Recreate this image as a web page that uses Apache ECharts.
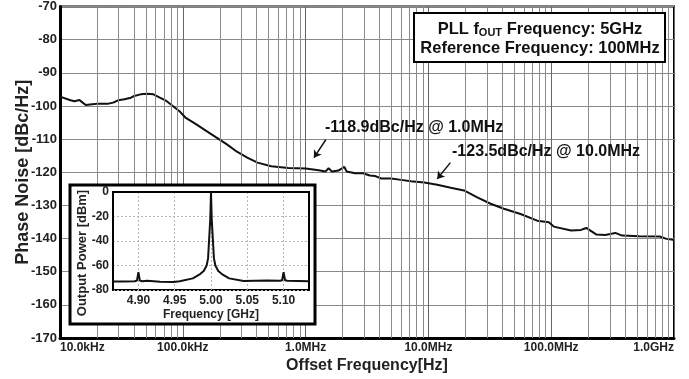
<!doctype html>
<html lang="en">
  <head>
    <meta charset="utf-8">
    <title>PLL Phase Noise</title>
    <script src="https://cdn.jsdelivr.net/npm/echarts@6.0.0/dist/echarts.min.js"></script>
    <style>
      html, body {
        width: 100%;
        height: 100%;
        margin: 0;
        background: #fff;
      }

      #chart {
        width: 689px;
        height: 379px;
      }
    </style>
  </head>
  <body>
    <div id="chart"></div>
    <script>
      // main plot: phase noise vs offset frequency
      const offsetFreq = [
        1e4, 1.2e4, 1.31e4, 1.44e4, 1.53e4, 1.62e4, 1.83e4, 2.07e4, 2.48e4, 2.71e4,
        2.97e4, 3.35e4, 3.78e4, 4.02e4, 4.53e4, 5.11e4, 5.77e4, 6.5e4, 7.35e4, 8.3e4,
        9.34e4, 1.05e5, 1.28e5, 1.55e5, 1.87e5, 2.27e5, 2.76e5, 3.35e5, 4.06e5, 5.25e5,
        7.24e5, 1e6, 1.28e6, 1.45e6, 1.54e6, 1.64e6, 1.85e6, 2.07e6, 2.16e6, 2.53e6,
        2.94e6, 3.33e6, 3.66e6, 4.13e6, 4.97e6, 5.99e6, 7.21e6, 9.25e6, 1.18e7, 1.52e7,
        1.95e7, 2.5e7, 3.21e7, 4.12e7, 5.63e7, 7.69e7, 9.56e7, 1.05e8, 1.45e8, 1.75e8,
        1.93e8, 2.34e8, 2.75e8, 3.33e8, 3.78e8, 5.21e8, 7.65e8, 8.7e8, 9.86e8
      ];
      const phaseNoise = [
        -97.2, -98.2, -98.6, -98.2, -99.0, -99.7, -99.5, -99.3, -99.3, -99.0,
        -98.3, -98.0, -97.5, -97.0, -96.5, -96.3, -96.5, -97.5, -98.5, -100.0,
        -101.5, -103.5, -105.5, -107.5, -109.5, -111.5, -113.8, -115.6, -117.1, -118.2,
        -118.7, -118.9, -119.4, -119.8, -118.8, -119.8, -119.5, -118.4, -119.8, -120.3,
        -120.3, -121.0, -121.1, -121.9, -121.9, -122.3, -122.7, -123.1, -123.8, -124.7,
        -125.5, -127.6, -129.5, -131.0, -132.6, -134.6, -135.1, -136.4, -137.6, -137.4,
        -136.8, -138.8, -138.9, -138.3, -139.1, -139.3, -139.4, -140.1, -140.4
      ];
      const decades = [1e4, 1e5, 1e6, 1e7, 1e8];
      const minorSteps = [2, 3, 4, 5, 6, 7, 8, 9];

      // inset: output spectrum
      const insetFreq = [
        4.865, 4.880, 4.895, 4.898, 4.900, 4.902, 4.905, 4.912, 4.930, 4.948,
        4.957, 4.975, 4.985, 4.990, 4.994, 4.996, 4.9973, 4.999, 5.000, 5.001,
        5.0027, 5.004, 5.006, 5.010, 5.015, 5.025, 5.045, 5.077, 5.095, 5.098,
        5.100, 5.102, 5.105, 5.120, 5.135
      ];
      const insetPower = [
        -73.0, -73.0, -72.8, -72.3, -65.5, -72.3, -72.8, -72.5, -73.2, -73.5,
        -72.8, -70.5, -67.0, -64.5, -60.0, -54.0, -40.0, -22.0, 0.0, -22.0,
        -40.0, -54.0, -60.0, -64.5, -67.0, -70.5, -72.6, -72.3, -72.5, -72.0,
        -65.5, -72.0, -72.5, -72.6, -72.8
      ];
      const insetTicks = [4.90, 4.95, 5.00, 5.05, 5.10];

      // annotation arrows [from, to] in data coords
      const notes = [
        { text: '-118.9dBc/Hz @ 1.0MHz', from: [1.46e6, -110.2], to: [1.17e6, -115.6], pos: [325, 120] },
        { text: '-123.5dBc/Hz @ 10.0MHz', from: [1.51e7, -117.1], to: [1.18e7, -122.0], pos: [452, 144] }
      ];

      const font = "'Liberation Sans', Arial, sans-serif";

      let minorLines = [];
      decades.forEach((d) => {
        minorSteps.forEach((k) => minorLines.push({ xAxis: d * k }));
      });

      function freqLabel(v) {
        if (v >= 1e9) return (v / 1e9).toFixed(1) + 'GHz';
        if (v >= 1e6) return (v / 1e6).toFixed(1) + 'MHz';
        return (v / 1e3).toFixed(1) + 'kHz';
      }

      let chart = echarts.init(document.getElementById('chart'), null, { renderer: 'canvas' });

      let option = {
        animation: false,
        textStyle: { fontFamily: font },
        grid: [
          {
            left: 60, right: 15, top: 5, bottom: 41,
            show: true, borderColor: '#000', borderWidth: 2, z: 0
          },
          {
            left: 113, top: 192, width: 196, height: 98,
            show: true, borderColor: '#000', borderWidth: 2, z: 20
          }
        ],
        xAxis: [
          {
            type: 'log',
            gridIndex: 0,
            logBase: 10,
            min: 1e4,
            max: 1e9,
            name: 'Offset Frequency[Hz]',
            nameLocation: 'middle',
            nameMoveOverlap: false,
            nameGap: 20,
            nameTextStyle: { fontSize: 16, fontWeight: 'bold', color: '#222', fontFamily: font },
            axisLine: { lineStyle: { color: '#000', width: 3 } },
            axisTick: { show: false },
            axisLabel: {
              formatter: freqLabel,
              fontSize: 12, fontWeight: 'bold', color: '#222', margin: 4,
              alignMinLabel: 'left', alignMaxLabel: 'right', fontFamily: font
            },
            splitLine: { show: true, lineStyle: { color: '#666', width: 1 } }
          },
          {
            type: 'value',
            gridIndex: 1,
            min: 4.865,
            max: 5.135,
            z: 20,
            name: 'Frequency [GHz]',
            nameLocation: 'middle',
            nameMoveOverlap: false,
            nameGap: 19,
            nameTextStyle: { fontSize: 12, fontWeight: 'bold', color: '#222', fontFamily: font },
            axisLine: { lineStyle: { color: '#000', width: 2 } },
            axisTick: { show: false, customValues: insetTicks },
            axisLabel: {
              customValues: insetTicks,
              formatter: (v) => v.toFixed(2),
              fontSize: 12, fontWeight: 'bold', color: '#222', margin: 5, fontFamily: font
            },
            splitLine: { show: true, lineStyle: { color: '#b5b5b5', width: 1, type: [2, 2] } }
          }
        ],
        yAxis: [
          {
            type: 'value',
            gridIndex: 0,
            min: -170,
            max: -70,
            interval: 10,
            name: 'Phase Noise [dBc/Hz]',
            nameLocation: 'middle',
            nameMoveOverlap: false,
            nameGap: 28,
            nameTextStyle: { fontSize: 18, fontWeight: 'bold', color: '#222', fontFamily: font },
            axisLine: { lineStyle: { color: '#000', width: 3 } },
            axisTick: { show: false },
            axisLabel: { fontSize: 13, fontWeight: 'bold', color: '#222', margin: 3, fontFamily: font },
            splitLine: { show: true, lineStyle: { color: '#8a8a8a', width: 1 } }
          },
          {
            type: 'value',
            gridIndex: 1,
            min: -80,
            max: 0,
            interval: 20,
            z: 20,
            name: 'Output Power [dBm]',
            nameLocation: 'middle',
            nameMoveOverlap: false,
            nameGap: 24,
            nameTextStyle: {
              fontSize: 13, fontWeight: 'bold', color: '#222', fontFamily: font,
              padding: [0, 24, 0, 0]
            },
            axisLine: { lineStyle: { color: '#000', width: 2 } },
            axisTick: { show: false },
            axisLabel: { fontSize: 12, fontWeight: 'bold', color: '#222', margin: 4, fontFamily: font },
            splitLine: { show: true, lineStyle: { color: '#b5b5b5', width: 1, type: [2, 2] } }
          }
        ],
        graphic: [
          {
            type: 'rect',
            z: 10,
            shape: { x: 70, y: 185, width: 245, height: 139 },
            style: { fill: '#fff', stroke: '#000', lineWidth: 3 }
          },
          {
            type: 'rect',
            z: 10,
            shape: { x: 414, y: 13, width: 251, height: 49 },
            style: { fill: '#fff', stroke: '#000', lineWidth: 2 }
          },
          {
            type: 'text',
            z: 11,
            x: 540, y: 29,
            style: {
              text: '{a|PLL f}{s|OUT}{a| Frequency: 5GHz}',
              align: 'center', verticalAlign: 'middle',
              rich: {
                a: { fontSize: 16.5, fontWeight: 'bold', fill: '#111', fontFamily: font },
                s: { fontSize: 11, fontWeight: 'bold', fill: '#111', fontFamily: font, padding: [8, 0, 0, 0] }
              }
            }
          },
          {
            type: 'text',
            z: 11,
            x: 540, y: 48,
            style: {
              text: 'Reference Frequency: 100MHz',
              align: 'center', verticalAlign: 'middle',
              fontSize: 16.5, fontWeight: 'bold', fill: '#111', fontFamily: font
            }
          }
        ].concat(notes.map((n) => ({
          type: 'text',
          z: 11,
          x: n.pos[0], y: n.pos[1],
          style: { text: n.text, fontSize: 16, fontWeight: 'bold', fill: '#111', fontFamily: font }
        }))),
        series: [
          {
            // minor log grid lines
            type: 'line',
            xAxisIndex: 0,
            yAxisIndex: 0,
            z: 1,
            data: [],
            markLine: {
              silent: true,
              symbol: ['none', 'none'],
              label: { show: false },
              lineStyle: { color: '#8a8a8a', width: 1, type: 'solid' },
              data: minorLines
            }
          },
          {
            type: 'line',
            xAxisIndex: 0,
            yAxisIndex: 0,
            z: 3,
            showSymbol: false,
            lineStyle: { color: '#111', width: 2 },
            data: offsetFreq.map((f, i) => [f, phaseNoise[i]]),
            markLine: {
              silent: true,
              symbol: ['none', 'arrow'],
              symbolSize: 7,
              label: { show: false },
              lineStyle: { color: '#111', width: 1.5, type: 'solid' },
              data: notes.map((n) => [{ coord: n.from }, { coord: n.to }])
            }
          },
          {
            type: 'line',
            xAxisIndex: 1,
            yAxisIndex: 1,
            z: 21,
            showSymbol: false,
            lineStyle: { color: '#111', width: 2 },
            data: insetFreq.map((f, i) => [f, insetPower[i]])
          }
        ]
      };

      chart.setOption(option);

      window.addEventListener('resize', () => {
        chart.resize();
      });
    </script>
  </body>
</html>
